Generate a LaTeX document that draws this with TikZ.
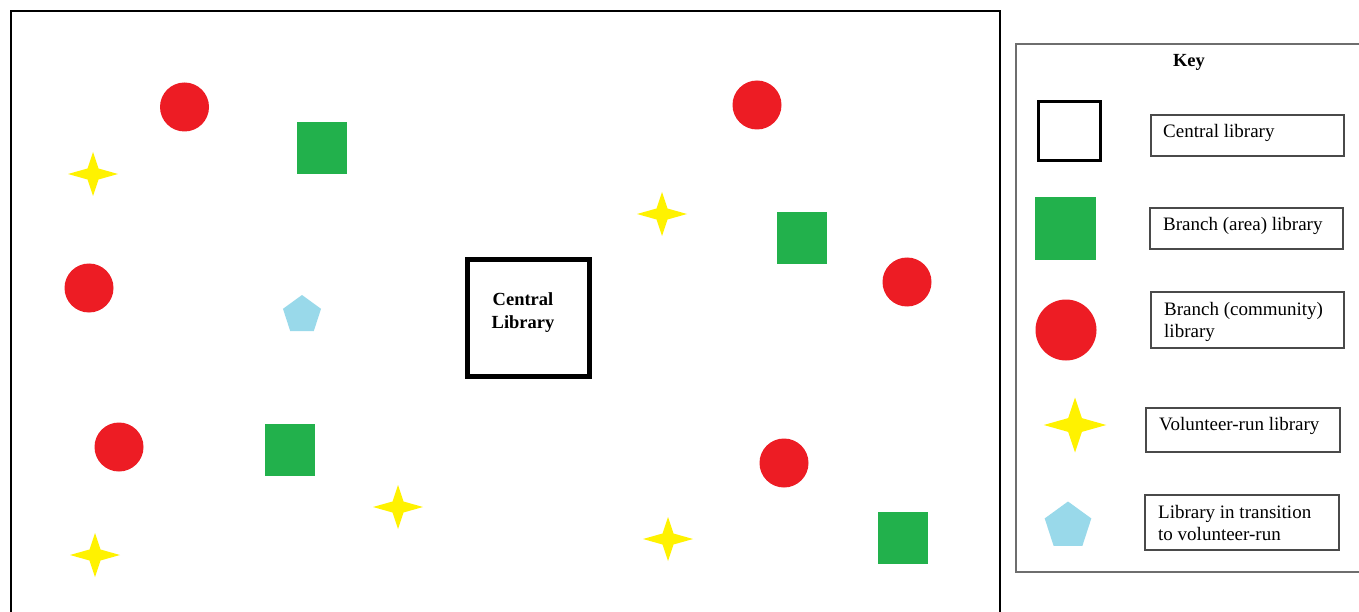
\documentclass[tikz,border=0pt]{standalone}
\usepackage{fontspec}
\setmainfont{Liberation Serif}
\usetikzlibrary{shapes.geometric}
\definecolor{pred}{HTML}{ED1C24}
\definecolor{pgreen}{HTML}{22B14C}
\definecolor{pyellow}{HTML}{FFF200}
\definecolor{pblue}{HTML}{99D9EA}
\definecolor{keygray}{HTML}{6E6E6E}
\definecolor{boxgray}{HTML}{4A4A4A}
\tikzset{
  redc/.style={circle, fill=pred, inner sep=0pt, minimum size=49pt},
  greensq/.style={rectangle, fill=pgreen, inner sep=0pt, minimum width=50pt, minimum height=52pt},
  pent/.style={regular polygon, regular polygon sides=5, fill=pblue, inner sep=0pt, minimum size=40pt},
  vstar/.pic={\fill[pyellow] (0,-22) -- (5.5,-5.5) -- (25,0) -- (5.5,5.5) -- (0,22) -- (-5.5,5.5) -- (-25,0) -- (-5.5,-5.5) -- cycle;},
  lblbox/.style={rectangle, draw=boxgray, line width=1.3pt, inner sep=0pt},
  lbl/.style={inner sep=0pt, font=\fontsize{19}{22}\selectfont, anchor=base west},
  bold/.style={inner sep=0pt, font=\fontsize{18.5}{22}\selectfont\bfseries, anchor=base}
}
\begin{document}
\begin{tikzpicture}[x=1pt,y=-1pt]
\clip (0,0) rectangle (1359,612);
\fill[white] (0,0) rectangle (1359,612);
% main frame
\draw[line width=2pt] (11,640) -- (11,11) -- (1000,11) -- (1000,640);
% central library
\node[rectangle, draw=black, line width=5pt, minimum width=122pt, minimum height=117pt, inner sep=0pt] (central) at (528,318) {};
\node[bold] (cl1) at (523,305) {Central};
\node[bold] (cl2) at (523,328) {Library};
% red circles
\node[redc] (r1) at (184.5,107) {};
\node[redc] (r2) at (89,288) {};
\node[redc] (r3) at (119,447) {};
\node[redc] (r4) at (757,105) {};
\node[redc] (r5) at (907,282) {};
\node[redc] (r6) at (784,463) {};
% green squares
\node[greensq] (g1) at (322,148) {};
\node[greensq] (g2) at (802,238) {};
\node[greensq] (g3) at (289.5,449.5) {};
\node[greensq] (g4) at (903,538) {};
% pentagon
\node[pent] (p1) at (302,315) {};
% stars
\pic at (93,174) {vstar};
\pic at (662,214) {vstar};
\pic at (398,507) {vstar};
\pic at (95,555) {vstar};
\pic at (668,539) {vstar};
% key box
\draw[keygray, line width=1.6pt] (1400,44) -- (1016,44) -- (1016,572) -- (1400,572);
\node[bold] (key) at (1189,67) {Key};
% key symbols
\node[rectangle, draw=black, line width=3pt, minimum width=62pt, minimum height=59pt, inner sep=0pt] (kcentral) at (1069.5,131) {};
\node[greensq, minimum width=61pt, minimum height=63pt] (kgreen) at (1065.5,228.5) {};
\node[redc, minimum size=61pt] (kred) at (1066,330) {};
\pic[scale=1.25] at (1075,425) {vstar};
\node[pent, minimum size=49pt] (kpent) at (1068,526) {};
% key labels
\node[lblbox, minimum width=193pt, minimum height=41pt] (b1) at (1247.5,135.5) {};
\node[lbl] (t1) at (1163,138) {Central library};
\node[lblbox, minimum width=193pt, minimum height=41pt] (b2) at (1246.5,228.5) {};
\node[lbl] (t2) at (1163,231) {Branch (area) library};
\node[lblbox, minimum width=193pt, minimum height=56pt] (b3) at (1247.5,320) {};
\node[lbl] (t3a) at (1164,315) {Branch (community)};
\node[lbl] (t3b) at (1164,337) {library};
\node[lblbox, minimum width=194pt, minimum height=44pt] (b4) at (1243,430) {};
\node[lbl] (t4) at (1159,430) {Volunteer-run library};
\node[lblbox, minimum width=194pt, minimum height=55pt] (b5) at (1242,522.5) {};
\node[lbl] (t5a) at (1158,518) {Library in transition};
\node[lbl] (t5b) at (1158,540) {to volunteer-run};
\end{tikzpicture}
\end{document}
